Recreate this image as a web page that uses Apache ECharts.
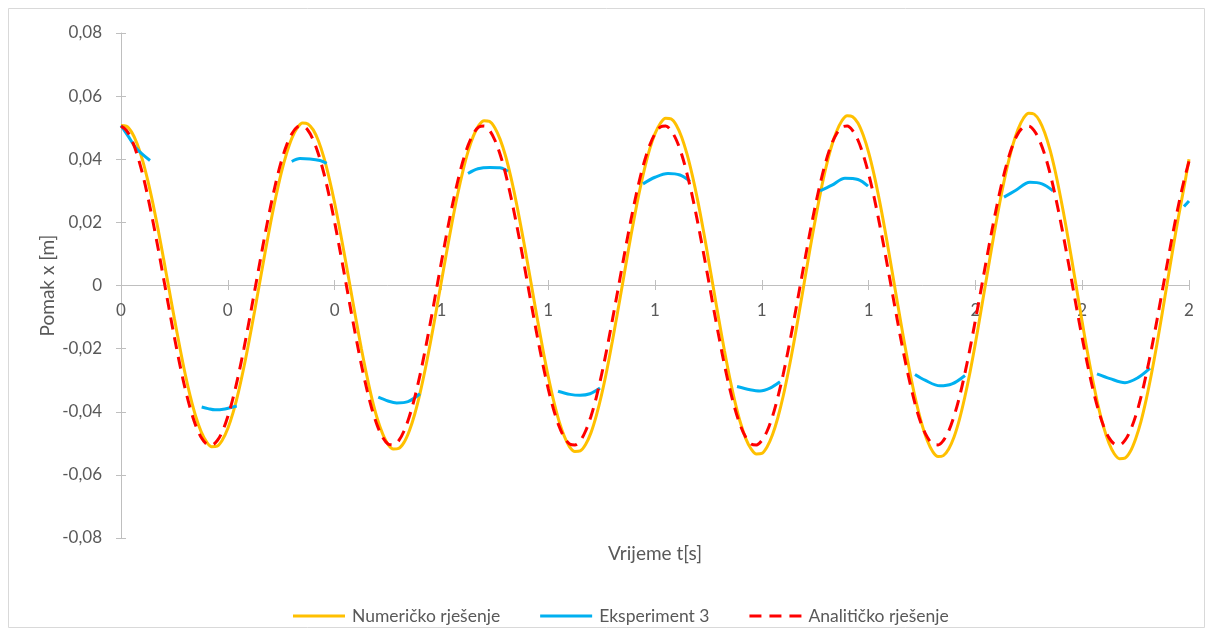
<!DOCTYPE html>
<html>
<head>
<meta charset="utf-8">
<script src="https://cdn.jsdelivr.net/npm/echarts@6/dist/echarts.min.js"></script>
<style>
  html, body { margin: 0; padding: 0; background: #ffffff; }
  #chart { width: 1210px; height: 634px; }
</style>
</head>
<body>
<div id="chart"></div>
<script>
// Sampling step of the computed solutions [s]
const T_STEP = 0.01;

// Numeričko rješenje, x [m] every 0.01 s from 0 to 2 s
const numericko = [
  0.0507, 0.0505, 0.0486, 0.0450, 0.0399, 0.0334, 0.0258, 0.0173, 0.0082, -0.0012, -0.0105, -0.0195, -0.0279, -0.0353, -0.0415, -0.0463, -0.0495, -0.0511, -0.0509, -0.0489, -0.0453, -0.0402, -0.0337, -0.0260, -0.0174, -0.0083, 0.0012, 0.0106, 0.0197, 0.0281, 0.0356, 0.0418, 0.0467, 0.0499,
  0.0515, 0.0512, 0.0493, 0.0457, 0.0405, 0.0339, 0.0262, 0.0175, 0.0083, -0.0012, -0.0107, -0.0199, -0.0283, -0.0359, -0.0422, -0.0470, -0.0503, -0.0518, -0.0516, -0.0497, -0.0460, -0.0408, -0.0341, -0.0263, -0.0176, -0.0083, 0.0013, 0.0108, 0.0200, 0.0286, 0.0361, 0.0425, 0.0474, 0.0507,
  0.0522, 0.0520, 0.0500, 0.0463, 0.0411, 0.0344, 0.0265, 0.0177, 0.0084, -0.0013, -0.0109, -0.0202, -0.0288, -0.0364, -0.0428, -0.0477, -0.0511, -0.0526, -0.0524, -0.0504, -0.0467, -0.0413, -0.0346, -0.0267, -0.0178, -0.0084, 0.0013, 0.0111, 0.0204, 0.0291, 0.0367, 0.0432, 0.0481, 0.0514,
  0.0530, 0.0528, 0.0508, 0.0470, 0.0416, 0.0348, 0.0269, 0.0180, 0.0084, -0.0014, -0.0112, -0.0206, -0.0293, -0.0370, -0.0435, -0.0485, -0.0518, -0.0534, -0.0532, -0.0511, -0.0473, -0.0419, -0.0351, -0.0270, -0.0181, -0.0085, 0.0014, 0.0113, 0.0207, 0.0295, 0.0373, 0.0438, 0.0488, 0.0522,
  0.0538, 0.0535, 0.0515, 0.0476, 0.0422, 0.0353, 0.0272, 0.0182, 0.0085, -0.0015, -0.0114, -0.0209, -0.0298, -0.0376, -0.0441, -0.0492, -0.0526, -0.0542, -0.0539, -0.0518, -0.0480, -0.0425, -0.0355, -0.0274, -0.0183, -0.0085, 0.0015, 0.0115, 0.0211, 0.0300, 0.0379, 0.0445, 0.0496, 0.0530,
  0.0546, 0.0543, 0.0522, 0.0483, 0.0428, 0.0358, 0.0275, 0.0184, 0.0086, -0.0015, -0.0116, -0.0213, -0.0302, -0.0382, -0.0448, -0.0499, -0.0533, -0.0549, -0.0547, -0.0526, -0.0486, -0.0431, -0.0360, -0.0277, -0.0185, -0.0086, 0.0016, 0.0117, 0.0215, 0.0305, 0.0400
];

// Analitičko rješenje, x [m] every 0.01 s from 0 to 2 s
const analiticko = [
  0.0505, 0.0492, 0.0462, 0.0416, 0.0356, 0.0283, 0.0201, 0.0113, 0.0020, -0.0073, -0.0164, -0.0249, -0.0326, -0.0391, -0.0444, -0.0481, -0.0502, -0.0505, -0.0492, -0.0462, -0.0415, -0.0355, -0.0283, -0.0201, -0.0112, -0.0020, 0.0073, 0.0164, 0.0249, 0.0326, 0.0392, 0.0444, 0.0481, 0.0502,
  0.0505, 0.0492, 0.0461, 0.0415, 0.0355, 0.0283, 0.0201, 0.0112, 0.0020, -0.0074, -0.0164, -0.0250, -0.0326, -0.0392, -0.0444, -0.0481, -0.0502, -0.0505, -0.0492, -0.0461, -0.0415, -0.0355, -0.0283, -0.0201, -0.0112, -0.0019, 0.0074, 0.0165, 0.0250, 0.0326, 0.0392, 0.0444, 0.0481, 0.0502,
  0.0505, 0.0492, 0.0461, 0.0415, 0.0355, 0.0282, 0.0200, 0.0112, 0.0019, -0.0074, -0.0165, -0.0250, -0.0327, -0.0392, -0.0444, -0.0481, -0.0502, -0.0505, -0.0492, -0.0461, -0.0415, -0.0355, -0.0282, -0.0200, -0.0111, -0.0019, 0.0074, 0.0165, 0.0250, 0.0327, 0.0392, 0.0444, 0.0481, 0.0502,
  0.0505, 0.0491, 0.0461, 0.0415, 0.0354, 0.0282, 0.0200, 0.0111, 0.0019, -0.0075, -0.0165, -0.0251, -0.0327, -0.0392, -0.0444, -0.0481, -0.0502, -0.0505, -0.0491, -0.0461, -0.0415, -0.0354, -0.0282, -0.0200, -0.0111, -0.0018, 0.0075, 0.0166, 0.0251, 0.0327, 0.0393, 0.0445, 0.0481, 0.0502,
  0.0505, 0.0491, 0.0461, 0.0414, 0.0354, 0.0282, 0.0199, 0.0111, 0.0018, -0.0075, -0.0166, -0.0251, -0.0327, -0.0393, -0.0445, -0.0481, -0.0502, -0.0505, -0.0491, -0.0461, -0.0414, -0.0354, -0.0281, -0.0199, -0.0110, -0.0018, 0.0075, 0.0166, 0.0251, 0.0328, 0.0393, 0.0445, 0.0482, 0.0502,
  0.0505, 0.0491, 0.0460, 0.0414, 0.0354, 0.0281, 0.0199, 0.0110, 0.0018, -0.0076, -0.0166, -0.0251, -0.0328, -0.0393, -0.0445, -0.0482, -0.0502, -0.0505, -0.0491, -0.0460, -0.0414, -0.0354, -0.0281, -0.0199, -0.0110, -0.0017, 0.0076, 0.0167, 0.0252, 0.0328, 0.0393
];

// Eksperiment 3: recorded stretches [t s, x m]; the gaps between them have no data
const eksperiment3 = [
  [[0.0000, 0.0507], [0.0131, 0.0474], [0.0294, 0.0433], [0.0543, 0.0396]],
  [[0.1511, -0.0385], [0.1630, -0.0390], [0.1760, -0.0394], [0.1948, -0.0391], [0.2167, -0.0382]],
  [[0.3197, 0.0393], [0.3352, 0.0402], [0.3539, 0.0401], [0.3727, 0.0396], [0.3852, 0.0387]],
  [[0.4818, -0.0354], [0.5000, -0.0366], [0.5163, -0.0372], [0.5375, -0.0368], [0.5599, -0.0343]],
  [[0.6498, 0.0355], [0.6685, 0.0370], [0.6910, 0.0374], [0.7097, 0.0373], [0.7247, 0.0362]],
  [[0.8184, -0.0335], [0.8408, -0.0345], [0.8596, -0.0348], [0.8783, -0.0343], [0.8970, -0.0325]],
  [[0.9775, 0.0322], [1.0000, 0.0343], [1.0243, 0.0355], [1.0468, 0.0350], [1.0655, 0.0330]],
  [[1.1536, -0.0320], [1.1779, -0.0330], [1.1966, -0.0334], [1.2154, -0.0325], [1.2341, -0.0305]],
  [[1.3090, 0.0300], [1.3315, 0.0318], [1.3558, 0.0340], [1.3801, 0.0336], [1.3989, 0.0315]],
  [[1.4869, -0.0282], [1.5056, -0.0300], [1.5337, -0.0318], [1.5562, -0.0312], [1.5805, -0.0285]],
  [[1.6536, 0.0280], [1.6742, 0.0300], [1.7022, 0.0327], [1.7247, 0.0322], [1.7453, 0.0300]],
  [[1.8277, -0.0280], [1.8521, -0.0295], [1.8801, -0.0308], [1.9045, -0.0292], [1.9270, -0.0262]],
  [[1.9906, 0.0250], [2.0000, 0.0268]]
];

const seriesNames = ['Numeričko rješenje', 'Eksperiment 3', 'Analitičko rješenje'];
const seriesColors = ['#FFC000', '#00B0F0', '#FF0000'];

// Axis tick labels (time labels are shown rounded to whole seconds)
const xTickLabels = ['0', '0', '0', '1', '1', '1', '1', '1', '2', '2', '2'];
const yTickLabels = ['-0,08', '-0,06', '-0,04', '-0,02', '0', '0,02', '0,04', '0,06', '0,08'];

const X_MIN = 0, X_MAX = 2, X_STEP = 0.2;
const Y_MIN = -0.08, Y_MAX = 0.08, Y_STEP = 0.02;

const FONT = 'Lato, "Open Sans", sans-serif';
const AXIS_GREY = '#bfbfbf';
const TEXT_GREY = '#595959';

// Legend line samples: a solid bar and a three-dash bar
const ICON_SOLID = 'path://M0,0h52v3h-52z';
const ICON_DASH = 'path://M0,0h12v3h-12zM20,0h12v3h-12zM40,0h12v3h-12z';

function toPairs(values) {
  return values.map((v, i) => [+(i * T_STEP).toFixed(2), v]);
}

function joinStretches(stretches) {
  const out = [];
  stretches.forEach((s, i) => {
    s.forEach(p => out.push(p));
    if (i < stretches.length - 1) out.push([s[s.length - 1][0] + 0.001, null]);
  });
  return out;
}

const chart = echarts.init(document.getElementById('chart'), null, { renderer: 'canvas' });

const xFormatter = v => xTickLabels[Math.round((v - X_MIN) / X_STEP)] ?? '';
const yFormatter = v => yTickLabels[Math.round((v - Y_MIN) / Y_STEP)] ?? '';

const PLOT = { left: 121, right: 21, top: 33, bottom: 96 };

chart.setOption({
  animation: false,
  backgroundColor: '#ffffff',
  textStyle: { fontFamily: FONT },
  grid: [
    // plotting area
    { left: PLOT.left, right: PLOT.right, top: PLOT.top, bottom: PLOT.bottom, containLabel: false, outerBoundsMode: 'none' },
    // upper half of the plotting area: its lower edge is the x = 0 level where the time axis sits
    { left: PLOT.left, right: PLOT.right, top: PLOT.top, bottom: 349, containLabel: false, outerBoundsMode: 'none' }
  ],
  graphic: [{
    type: 'rect',
    shape: { x: 8.5, y: 8.5, width: 1196, height: 619 },
    style: { fill: 'none', stroke: '#d9d9d9', lineWidth: 1 },
    silent: true, z: -1
  }],
  legend: {
    data: [
      { name: seriesNames[0], icon: ICON_SOLID },
      { name: seriesNames[1], icon: ICON_SOLID },
      { name: seriesNames[2], icon: ICON_DASH }
    ],
    left: 288,
    top: 602,
    itemWidth: 52,
    itemHeight: 16,
    itemGap: 40,
    textStyle: { color: TEXT_GREY, fontSize: 17.5, fontFamily: FONT, padding: [0, 0, 0, 2] }
  },
  xAxis: [
    {
      // data axis of the plotting area; carries the axis title under the plot
      gridIndex: 0, type: 'value', min: X_MIN, max: X_MAX, interval: X_STEP, position: 'bottom',
      axisLine: { show: false, onZero: false },
      axisTick: { show: false }, axisLabel: { show: false }, splitLine: { show: false },
      name: 'Vrijeme t[s]', nameLocation: 'middle', nameGap: 6,
      nameTextStyle: { color: TEXT_GREY, fontSize: 19, fontFamily: FONT }
    },
    {
      // time axis drawn along x = 0, ticks pointing down, labels under it
      gridIndex: 1, type: 'value', min: X_MIN, max: X_MAX, interval: X_STEP, position: 'bottom',
      axisLine: { show: true, onZero: false, lineStyle: { color: AXIS_GREY, width: 1 } },
      axisTick: { show: true, inside: false, length: 5, lineStyle: { color: AXIS_GREY } },
      axisLabel: { formatter: xFormatter, color: TEXT_GREY, fontSize: 17, fontFamily: FONT, margin: 17, showMinLabel: true, showMaxLabel: true, hideOverlap: false },
      splitLine: { show: false }
    },
    {
      // same axis, ticks pointing up
      gridIndex: 1, type: 'value', min: X_MIN, max: X_MAX, interval: X_STEP, position: 'bottom',
      axisLine: { show: false, onZero: false },
      axisTick: { show: true, inside: true, length: 5, lineStyle: { color: AXIS_GREY } },
      axisLabel: { show: false }, splitLine: { show: false }
    }
  ],
  yAxis: [
    {
      gridIndex: 0, type: 'value', min: Y_MIN, max: Y_MAX, interval: Y_STEP, position: 'left',
      axisLine: { show: true, onZero: false, lineStyle: { color: AXIS_GREY, width: 1 } },
      axisTick: { show: true, inside: false, length: 5, lineStyle: { color: AXIS_GREY } },
      axisLabel: { formatter: yFormatter, color: TEXT_GREY, fontSize: 17, fontFamily: FONT, margin: 19 },
      splitLine: { show: false },
      name: 'Pomak x [m]', nameLocation: 'middle', nameGap: 64, nameRotate: 90, nameMoveOverlap: false,
      nameTextStyle: { color: TEXT_GREY, fontSize: 19, fontFamily: FONT }
    },
    {
      gridIndex: 0, type: 'value', min: Y_MIN, max: Y_MAX, interval: Y_STEP, position: 'left',
      axisLine: { show: false, onZero: false },
      axisTick: { show: true, inside: true, length: 5, lineStyle: { color: AXIS_GREY } },
      axisLabel: { show: false }, splitLine: { show: false }
    },
    {
      gridIndex: 1, type: 'value', min: 0, max: Y_MAX, position: 'left', show: false,
      axisLine: { onZero: false }, splitLine: { show: false }
    }
  ],
  series: [
    {
      name: seriesNames[0], type: 'line', xAxisIndex: 0, yAxisIndex: 0,
      data: toPairs(numericko), smooth: 0.33, showSymbol: false, symbol: 'none',
      lineStyle: { color: seriesColors[0], width: 3 }, itemStyle: { color: seriesColors[0] }, z: 2
    },
    {
      name: seriesNames[1], type: 'line', xAxisIndex: 0, yAxisIndex: 0,
      data: joinStretches(eksperiment3), smooth: 0.33, connectNulls: false, showSymbol: false, symbol: 'none',
      lineStyle: { color: seriesColors[1], width: 3 }, itemStyle: { color: seriesColors[1] }, z: 3
    },
    {
      name: seriesNames[2], type: 'line', xAxisIndex: 0, yAxisIndex: 0,
      data: toPairs(analiticko), smooth: 0.33, showSymbol: false, symbol: 'none',
      lineStyle: { color: seriesColors[2], width: 3, type: [12, 8] }, itemStyle: { color: seriesColors[2] }, z: 4
    }
  ]
});
</script>
</body>
</html>
